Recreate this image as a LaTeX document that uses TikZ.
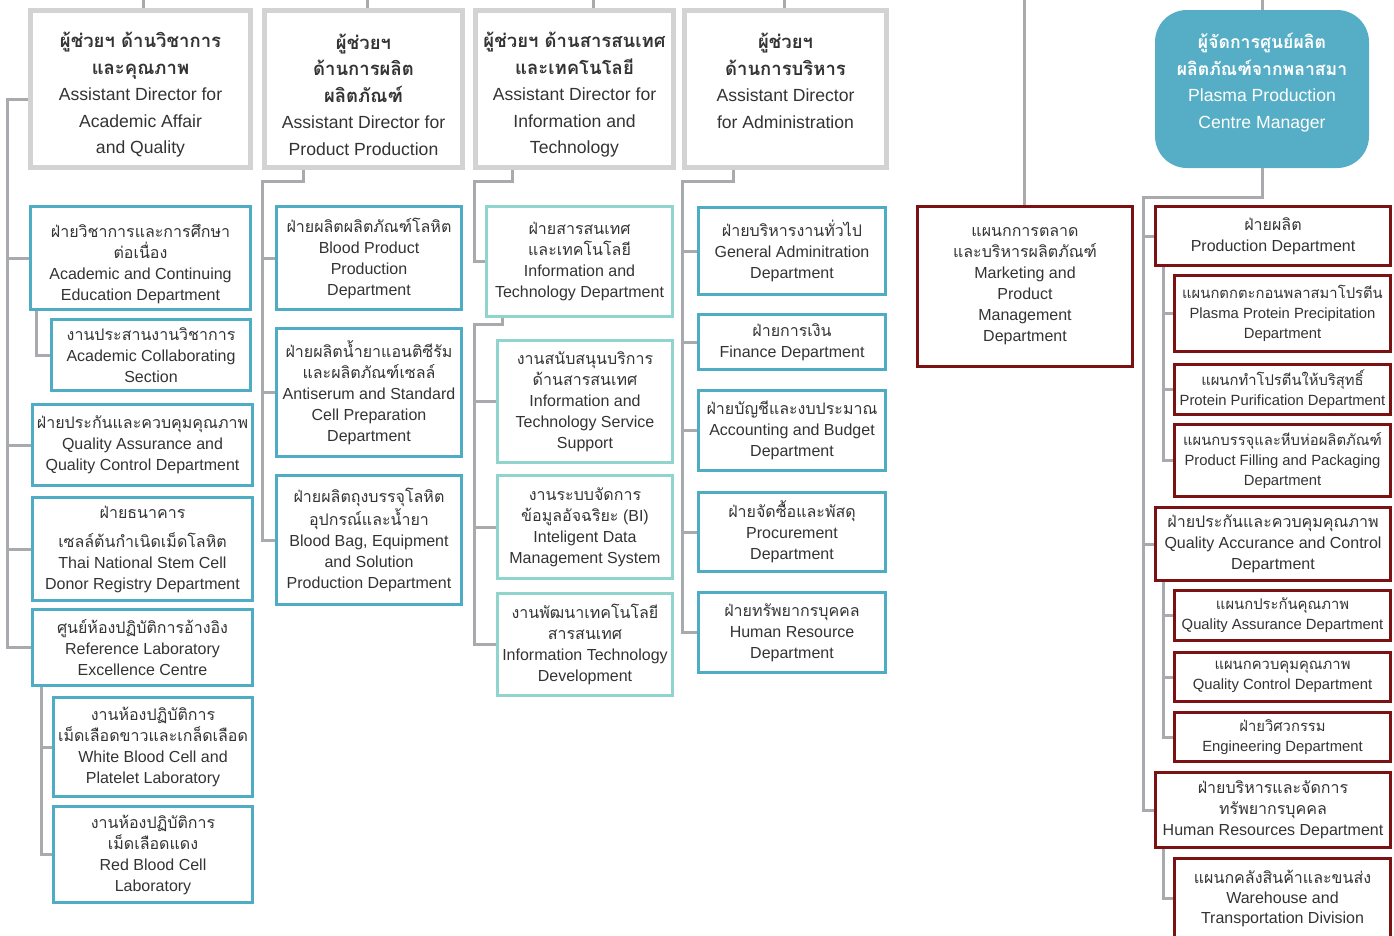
\documentclass[tikz,border=0pt]{standalone}
\usepackage{fontspec}
\setmainfont{Liberation Sans}
\newfontfamily\thaifont[Script=Thai]{Loma}
\newcommand{\thl}[1]{{\thaifont #1}}
\newcommand{\thb}[1]{{\thaifont\bfseries\fontsize{18.5}{26.5}\selectfont #1}}

\definecolor{hdrGray}{HTML}{D3D3D3}
\definecolor{lineGray}{HTML}{A9AAAD}
\definecolor{boxBlue}{HTML}{4EADC5}
\definecolor{boxMint}{HTML}{8FD5CE}
\definecolor{boxRed}{HTML}{7B1113}
\definecolor{mgrBlue}{HTML}{55AEC5}
\definecolor{txtGray}{HTML}{333333}

\begin{document}
\begin{tikzpicture}[x=1pt, y=-1pt
        , link/.style={draw=lineGray, line width=3pt}
        , box/.style={rectangle, align=center, inner sep=1pt, text=txtGray, line width=3pt, font=\fontsize{16}{21}\selectfont}
        , hdrBox/.style={box, draw=hdrGray, line width=5pt, font=\fontsize{17.6}{26.5}\selectfont}
        , blueBox/.style={box, draw=boxBlue}
        , mintBox/.style={box, draw=boxMint}
        , redBox/.style={box, draw=boxRed}
        , redSub/.style={redBox, font=\fontsize{14.8}{20}\selectfont}
        , mgrBox/.style={rectangle, rounded corners=32pt, fill=mgrBlue, text=white, align=center, inner sep=1pt, font=\fontsize{17.6}{26.5}\selectfont}
        ]
        \useasboundingbox (0,0) rectangle (1394,935);
        \clip (0,0) rectangle (1394,935);

        % assistant directors
        \node[hdrBox, minimum width=220, minimum height=157, text height=133pt] (hAcad) at (140.5,89) {\thb{ผู้ช่วยฯ ด้านวิชาการ}\\ \thb{และคุณภาพ}\\ Assistant Director for\\ Academic Affair\\ and Quality};
        \node[hdrBox, minimum width=198, minimum height=157, text height=133pt] (hProd) at (363.5,89) {\thb{ผู้ช่วยฯ}\\ \thb{ด้านการผลิต}\\ \thb{ผลิตภัณฑ์}\\ Assistant Director for\\ Product Production};
        \node[hdrBox, minimum width=198, minimum height=157, text height=133pt] (hInfo) at (574.5,89) {\thb{ผู้ช่วยฯ ด้านสารสนเทศ}\\ \thb{และเทคโนโลยี}\\ Assistant Director for\\ Information and\\ Technology};
        \node[hdrBox, minimum width=202, minimum height=157, text depth=16pt] (hAdmin) at (785.5,89) {\thb{ผู้ช่วยฯ}\\ \thb{ด้านการบริหาร}\\ Assistant Director\\ for Administration};
        \node[mgrBox, minimum width=214, minimum height=158, text depth=16pt] (mgr) at (1262,89) {\thl{\bfseries ผู้จัดการศูนย์ผลิต}\\ \thl{\bfseries ผลิตภัณฑ์จากพลาสมา}\\ Plasma Production\\ Centre Manager};

        \coordinate (topA) at (143,0);
        \coordinate (topB) at (367,0);
        \coordinate (topC) at (593,0);
        \coordinate (topD) at (784,0);
        \coordinate (topM) at (1024,0);
        \coordinate (topP) at (1262,0);
        \draw[link] (topA) -- (topA |- hAcad.north);
        \draw[link] (topB) -- (topB |- hProd.north);
        \draw[link] (topC) -- (topC |- hInfo.north);
        \draw[link] (topD) -- (topD |- hAdmin.north);
        \draw[link] (topP) -- (mgr.north);

        % academic affair and quality
        \node[blueBox, minimum width=220, minimum height=103, text height=88pt] (acEdu) at (140.5,258) {\thl{ฝ่ายวิชาการและการศึกษา}\\ \thl{ต่อเนื่อง}\\ Academic and Continuing\\ Education Department};
        \node[blueBox, minimum width=199, minimum height=71] (acCol) at (151,355) {\thl{งานประสานงานวิชาการ}\\ Academic Collaborating\\ Section};
        \node[blueBox, minimum width=220, minimum height=81] (qaqc) at (142.5,445) {\thl{ฝ่ายประกันและควบคุมคุณภาพ}\\ Quality Assurance and\\ Quality Control Department};
        \node[blueBox, minimum width=220, minimum height=103] (stemCell) at (142.5,549) {\thl{ฝ่ายธนาคาร}\\[8pt] \thl{เซลล์ต้นกำเนิดเม็ดโลหิต}\\ Thai National Stem Cell\\ Donor Registry Department};
        \node[blueBox, minimum width=220, minimum height=76] (refLab) at (142.5,647.5) {\thl{ศูนย์ห้องปฏิบัติการอ้างอิง}\\ Reference Laboratory\\ Excellence Centre};
        \node[blueBox, minimum width=199, minimum height=99] (wbcLab) at (153,747) {\thl{งานห้องปฏิบัติการ}\\ \thl{เม็ดเลือดขาวและเกล็ดเลือด}\\ White Blood Cell and\\ Platelet Laboratory};
        \node[blueBox, minimum width=199, minimum height=96] (rbcLab) at (153,854.5) {\thl{งานห้องปฏิบัติการ}\\ \thl{เม็ดเลือดแดง}\\ Red Blood Cell\\ Laboratory};

        \coordinate (spA) at (7,99);
        \coordinate (spA1) at (36,0);
        \coordinate (spA2) at (41,0);
        \draw[link] (hAcad.west |- spA) -- (spA) |- (refLab.west);
        \foreach \b in {acEdu,qaqc,stemCell}
            \draw[link] (spA |- \b.west) -- (\b.west);
        \draw[link] (acEdu.south -| spA1) |- (acCol.west);
        \draw[link] (refLab.south -| spA2) |- (rbcLab.west);
        \draw[link] (spA2 |- wbcLab.west) -- (wbcLab.west);

        % product production
        \node[blueBox, minimum width=185, minimum height=103] (bldProd) at (369,258) {\thl{ฝ่ายผลิตผลิตภัณฑ์โลหิต}\\ Blood Product\\ Production\\ Department};
        \node[blueBox, minimum width=185, minimum height=128] (antiSer) at (369,392.5) {\thl{ฝ่ายผลิตน้ำยาแอนติซีรัม}\\ \thl{และผลิตภัณฑ์เซลล์}\\ Antiserum and Standard\\ Cell Preparation\\ Department};
        \node[blueBox, minimum width=185, minimum height=129] (bldBag) at (369,540) {\thl{ฝ่ายผลิตถุงบรรจุโลหิต}\\ \thl{อุปกรณ์และน้ำยา}\\ Blood Bag, Equipment\\ and Solution\\ Production Department};

        \coordinate (jB) at (303,181);
        \coordinate (spB) at (262,181);
        \draw[link] (hProd.south -| jB) -- (jB) -- (spB) |- (bldBag.west);
        \foreach \b in {bldProd,antiSer}
            \draw[link] (spB |- \b.west) -- (\b.west);

        % information and technology
        \node[mintBox, minimum width=186, minimum height=110] (itDept) at (579.5,261.5) {\thl{ฝ่ายสารสนเทศ}\\ \thl{และเทคโนโลยี}\\ Information and\\ Technology Department};
        \node[mintBox, minimum width=175, minimum height=122] (itSup) at (585,401.5) {\thl{งานสนับสนุนบริการ}\\ \thl{ด้านสารสนเทศ}\\ Information and\\ Technology Service\\ Support};
        \node[mintBox, minimum width=175, minimum height=103] (biSys) at (585,527) {\thl{งานระบบจัดการ}\\ \thl{ข้อมูลอัจฉริยะ} (BI)\\ Inteligent Data\\ Management System};
        \node[mintBox, minimum width=175, minimum height=102] (itDev) at (585,644.5) {\thl{งานพัฒนาเทคโนโลยี}\\ \thl{สารสนเทศ}\\ Information Technology\\ Development};

        \coordinate (jC) at (512,181);
        \coordinate (spC) at (474,181);
        \coordinate (jC2) at (502,324);
        \draw[link] (hInfo.south -| jC) -- (jC) -- (spC) |- (itDept.west);
        \draw[link] (itDept.south -| jC2) -- (jC2) -- (spC |- jC2) |- (itDev.west);
        \foreach \b in {itSup,biSys}
            \draw[link] (spC |- \b.west) -- (\b.west);

        % administration
        \node[blueBox, minimum width=187, minimum height=87] (genAdm) at (792,251) {\thl{ฝ่ายบริหารงานทั่วไป}\\ General Adminitration\\ Department};
        \node[blueBox, minimum width=187, minimum height=55] (finDept) at (792,342) {\thl{ฝ่ายการเงิน}\\ Finance Department};
        \node[blueBox, minimum width=187, minimum height=80] (accDept) at (792,430.5) {\thl{ฝ่ายบัญชีและงบประมาณ}\\ Accounting and Budget\\ Department};
        \node[blueBox, minimum width=187, minimum height=79] (procDept) at (792,532) {\thl{ฝ่ายจัดซื้อและพัสดุ}\\ Procurement\\ Department};
        \node[blueBox, minimum width=187, minimum height=80] (hrDept) at (792,632.5) {\thl{ฝ่ายทรัพยากรบุคคล}\\ Human Resource\\ Department};

        \coordinate (jD) at (733,181);
        \coordinate (spD) at (682,181);
        \draw[link] (hAdmin.south -| jD) -- (jD) -- (spD) |- (hrDept.west);
        \foreach \b in {genAdm,finDept,accDept,procDept}
            \draw[link] (spD |- \b.west) -- (\b.west);

        % marketing
        \node[redBox, minimum width=215, minimum height=160] (mkt) at (1025,286.5) {\thl{แผนกการตลาด}\\ \thl{และบริหารผลิตภัณฑ์}\\ Marketing and\\ Product\\ Management\\ Department};
        \draw[link] (topM) -- (topM |- mkt.north);

        % plasma production centre
        \node[redBox, minimum width=235, minimum height=59] (prodDept) at (1273,236) {\thl{ฝ่ายผลิต}\\ Production Department};
        \node[redSub, minimum width=216, minimum height=76] (ppp) at (1282.5,313.5) {\thl{แผนกตกตะกอนพลาสมาโปรตีน}\\ Plasma Protein Precipitation\\ Department};
        \node[redSub, minimum width=216, minimum height=50] (ppur) at (1282.5,389.5) {\thl{แผนกทำโปรตีนให้บริสุทธิ์}\\ Protein Purification Department};
        \node[redSub, minimum width=216, minimum height=72] (pfill) at (1282.5,460.5) {\thl{แผนกบรรจุและหีบห่อผลิตภัณฑ์}\\ Product Filling and Packaging\\ Department};
        \node[redBox, minimum width=235, minimum height=73] (qac) at (1273,544) {\thl{ฝ่ายประกันและควบคุมคุณภาพ}\\ Quality Accurance and Control\\ Department};
        \node[redSub, minimum width=216, minimum height=50] (qaDept) at (1282.5,615.5) {\thl{แผนกประกันคุณภาพ}\\ Quality Assurance Department};
        \node[redSub, minimum width=216, minimum height=49] (qcDept) at (1282.5,677) {\thl{แผนกควบคุมคุณภาพ}\\ Quality Control Department};
        \node[redSub, minimum width=216, minimum height=49] (engDept) at (1282.5,737) {\thl{ฝ่ายวิศวกรรม}\\ Engineering Department};
        \node[redBox, minimum width=235, minimum height=75] (hrRed) at (1273,810) {\thl{ฝ่ายบริหารและจัดการ}\\ \thl{ทรัพยากรบุคคล}\\ Human Resources Department};
        \node[redBox, minimum width=216, minimum height=80, font=\fontsize{16}{20}\selectfont] (whDept) at (1282.5,898.5) {\thl{แผนกคลังสินค้าและขนส่ง}\\ Warehouse and\\ Transportation Division};

        \coordinate (spR) at (1143,197);
        \coordinate (spR1) at (1163,0);
        \draw[link] (mgr.south) |- (spR) |- (hrRed.west);
        \foreach \b in {prodDept,qac}
            \draw[link] (spR |- \b.west) -- (\b.west);
        \draw[link] (prodDept.south -| spR1) |- (pfill.west);
        \draw[link] (qac.south -| spR1) |- (engDept.west);
        \draw[link] (hrRed.south -| spR1) |- (whDept.west);
        \foreach \b in {ppp,ppur,qaDept,qcDept}
            \draw[link] (spR1 |- \b.west) -- (\b.west);

    \end{tikzpicture}
\end{document}
